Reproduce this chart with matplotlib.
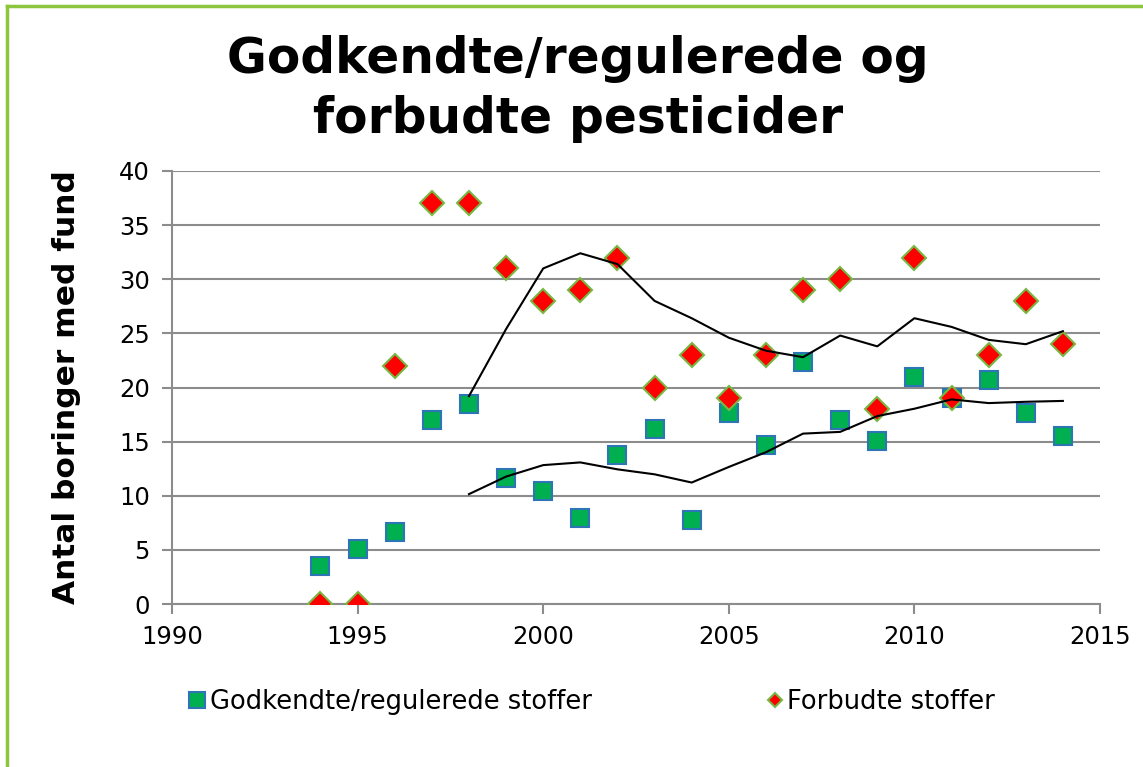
import matplotlib.pyplot as plt
import pandas as pd

# data
years = list(range(1994, 2015))
godkendte = [3.5, 5.1, 6.65, 17.0, 18.5, 11.6, 10.4, 7.9, 13.8, 16.2, 7.8,
             17.6, 14.7, 22.4, 17.0, 15.1, 21.0, 19.0, 20.7, 17.6, 15.5]
forbudte = [0, 0, 22, 37, 37, 31, 28, 29, 32, 20, 23,
            19, 23, 29, 30, 18, 32, 19, 23, 28, 24]

# 5-year moving average trendlines (as in the original)
godk_ma = pd.Series(godkendte, index=years).rolling(5).mean()
forb_ma = pd.Series(forbudte, index=years).rolling(5).mean()

W, H = 1143, 767
fig = plt.figure(figsize=(W / 100, H / 100), dpi=100)
ax = fig.add_axes([172 / W, 1 - 604 / H, 928 / W, 433 / H])

# green frame (left + top)
fig.add_artist(plt.Line2D([7 / W, 7 / W], [0, 1 - 6 / H], color='#8cc63f', lw=2.5,
                          transform=fig.transFigure))
fig.add_artist(plt.Line2D([7 / W, 1], [1 - 6 / H, 1 - 6 / H], color='#8cc63f', lw=2.5,
                          transform=fig.transFigure))

sq, = ax.plot(years, godkendte, 's', ms=12.5, mfc='#00b050', mec='#2e75b6', mew=1.5,
              label='Godkendte/regulerede stoffer', zorder=3)
di, = ax.plot(years, forbudte, 'D', ms=12.5, mfc='#ff0000', mec='#77b843', mew=1.5,
              label='Forbudte stoffer', zorder=3)
ax.plot(godk_ma.index, godk_ma.values, color='black', lw=1.5, zorder=4)
ax.plot(forb_ma.index, forb_ma.values, color='black', lw=1.5, zorder=4)

ax.set_xlim(1990, 2015)
ax.set_ylim(0, 40)
ax.set_xticks(range(1990, 2016, 5))
ax.set_yticks(range(0, 41, 5))
ax.grid(axis='y', color='#8c8c8c', lw=1.5)
ax.set_axisbelow(True)
for s in ['top', 'right']:
    ax.spines[s].set_visible(False)
for s in ['left', 'bottom']:
    ax.spines[s].set_color('#8c8c8c')
    ax.spines[s].set_linewidth(1.5)
ax.tick_params(colors='#8c8c8c', width=1.5, length=7, labelsize=17.5, labelcolor='black')
ax.tick_params(axis='x', pad=8)
ax.tick_params(axis='y', pad=9)

ax.set_ylabel('Antal boringer med fund', fontsize=22.5, fontweight='bold')
ax.yaxis.set_label_coords(-0.098, 0.5)
fig.text(578 / W, 1 - 89 / H, 'Godkendte/regulerede og\nforbudte pesticider', ha='center',
         va='center', fontsize=35, fontweight='bold', linespacing=1.3)

leg1 = fig.legend(handles=[sq], loc='center left', bbox_to_anchor=(188 / W, 1 - 702 / H),
                  frameon=False, fontsize=18.5, handlelength=0.7, handletextpad=0.15,
                  markerscale=0.95, borderpad=0, borderaxespad=0)
leg2 = fig.legend(handles=[di], loc='center left', bbox_to_anchor=(766 / W, 1 - 702 / H),
                  frameon=False, fontsize=18.5, handlelength=0.7, handletextpad=0.1,
                  markerscale=0.55, borderpad=0, borderaxespad=0)

fig.savefig('out.png', dpi=100)
